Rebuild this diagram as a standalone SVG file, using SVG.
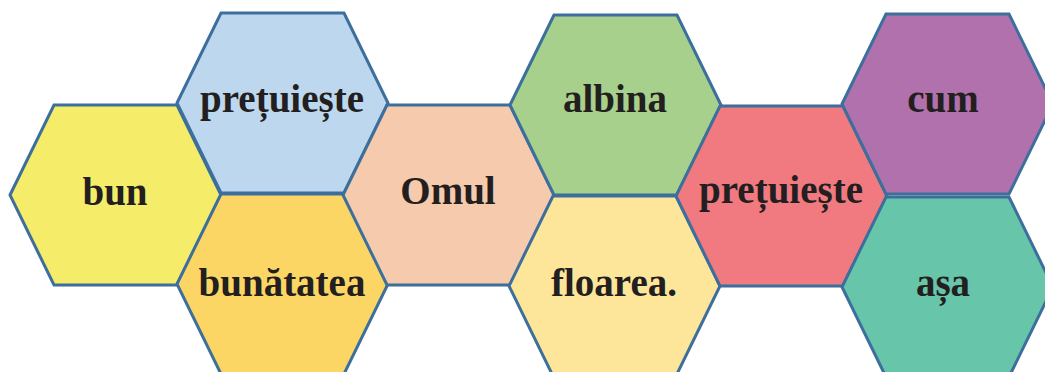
<svg xmlns="http://www.w3.org/2000/svg" width="1045" height="372" viewBox="0 0 1045 372">
<style>
.hex{stroke:#3d6f9c;stroke-width:3;stroke-linejoin:miter}
.t{font-family:"Liberation Serif","DejaVu Serif",serif;font-weight:bold;font-size:39px;fill:#231f20;text-anchor:middle}
</style>
<rect width="1045" height="372" fill="#ffffff"/>
<g id="n-bun"><polygon class="hex" fill="#f5ec6a" points="10,195 54,105 177,105 221,195 177,285 54,285"/><text class="t" x="115" y="205">bun</text></g>
<g id="n-pretuieste1"><polygon class="hex" fill="#bdd7ee" points="177,103 221,13 344,13 388,103 344,193 221,193"/><text class="t" x="282" y="112">prețuiește</text></g>
<g id="n-bunatatea"><polygon class="hex" fill="#fcd664" points="177,284 221,194 344,194 388,284 344,374 221,374"/><text class="t" x="282" y="296">bunătatea</text></g>
<g id="n-omul"><polygon class="hex" fill="#f6caad" points="343,195 387,105 510,105 554,195 510,285 387,285"/><text class="t" x="448" y="204">Omul</text></g>
<g id="n-albina"><polygon class="hex" fill="#a7d08c" points="510,105 554,15 677,15 721,105 677,195 554,195"/><text class="t" x="615" y="112">albina</text></g>
<g id="n-floarea"><polygon class="hex" fill="#fde699" points="509,286 553,196 676,196 720,286 676,376 553,376"/><text class="t" x="614" y="296">floarea.</text></g>
<g id="n-pretuieste2"><polygon class="hex" fill="#f17980" points="676,196 720,106 843,106 887,196 843,286 720,286"/><text class="t" x="781" y="203">prețuiește</text></g>
<g id="n-cum"><polygon class="hex" fill="#b171ad" points="842,104 886,14 1009,14 1053,104 1009,194 886,194"/><text class="t" x="943" y="112">cum</text></g>
<g id="n-asa"><polygon class="hex" fill="#67c5aa" points="842,287 886,197 1009,197 1053,287 1009,377 886,377"/><text class="t" x="943" y="296">așa</text></g>
<g id="connectors"></g>
</svg>
